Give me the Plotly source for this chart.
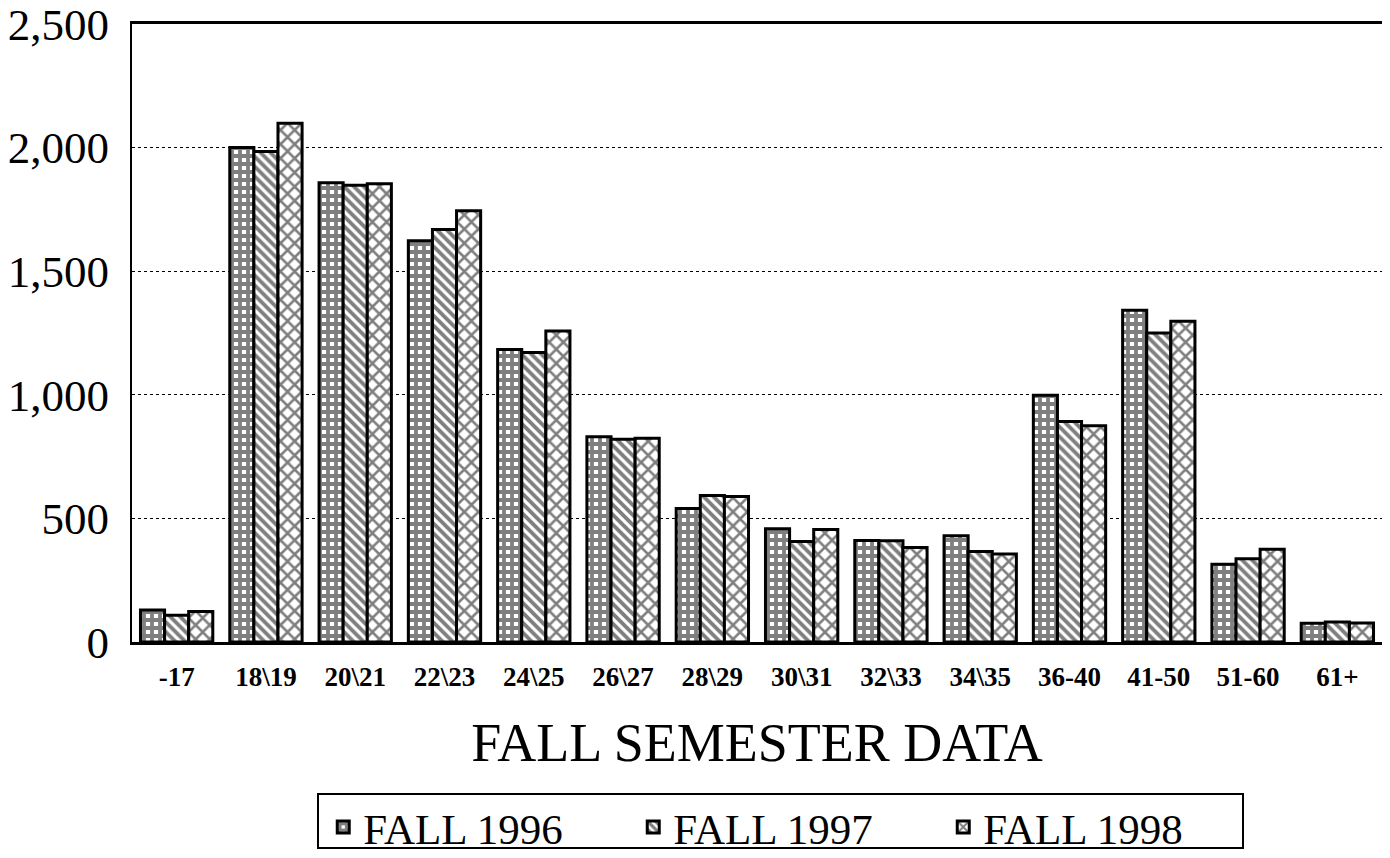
import plotly.graph_objects as go

categories = ["-17", "18\\19", "20\\21", "22\\23", "24\\25", "26\\27", "28\\29",
              "30\\31", "32\\33", "34\\35", "36-40", "41-50", "51-60", "61+"]
fall_1996 = [129, 2000, 1858, 1623, 1183, 830, 540, 458, 411, 430, 998, 1342, 315, 76]
fall_1997 = [108, 1984, 1848, 1669, 1171, 820, 593, 407, 410, 366, 892, 1250, 337, 81]
fall_1998 = [123, 2099, 1854, 1745, 1258, 824, 589, 455, 382, 356, 875, 1298, 375, 77]
series_names = ["FALL 1996", "FALL 1997", "FALL 1998"]
y_ticks = [0, 500, 1000, 1500, 2000, 2500]

FONT = "Liberation Serif, Times New Roman, serif"

patterns = [
    dict(shape="+", fgcolor="black", bgcolor="white", size=8, solidity=0.72),
    dict(shape="\\", fgcolor="black", bgcolor="white", size=7, solidity=0.55),
    dict(shape="x", fgcolor="black", bgcolor="white", size=10, solidity=0.45),
]

fig = go.Figure()
for name, vals, pat in zip(series_names, [fall_1996, fall_1997, fall_1998], patterns):
    fig.add_trace(go.Bar(
        x=categories, y=vals, name=name,
        marker=dict(color="white", pattern=pat, line=dict(color="black", width=3)),
    ))

# the page body adds an 8px margin, so everything is placed 8px up/left
fig.update_layout(
    width=1390, height=858,
    margin=dict(l=124, r=16, t=16, b=224, autoexpand=False),
    paper_bgcolor="white", plot_bgcolor="white",
    barmode="group", bargap=0.19, bargroupgap=0.0,
    font=dict(family=FONT, color="black"),
    showlegend=True,
    legend=dict(
        orientation="h", x=0.525, xanchor="center", y=-0.2994, yanchor="middle",
        font=dict(family=FONT, size=43, color="black"),
        borderwidth=0, bgcolor="rgba(0,0,0,0)",
        itemwidth=30, traceorder="normal",
        entrywidth=265, entrywidthmode="pixels",
    ),
    shapes=[dict(
        type="rect", xref="paper", yref="paper",
        x0=0.1488, x1=0.8888, y0=-0.3333, y1=-0.2460,
        line=dict(color="black", width=2), fillcolor="rgba(0,0,0,0)", layer="below",
    )],
    xaxis=dict(
        automargin=False,
        title=dict(text="FALL SEMESTER DATA", font=dict(family=FONT, size=54), standoff=32),
        tickfont=dict(family=FONT, size=27, color="black", weight="bold"),
        ticklabelstandoff=9,
        showline=True, linecolor="black", linewidth=3, mirror=True,
        ticks="", showgrid=False,
    ),
    yaxis=dict(
        automargin=False,
        range=[0, 2500], tickvals=y_ticks, tickformat=",d",
        tickfont=dict(family=FONT, size=45, color="black"),
        ticklabelstandoff=12, ticklabeloverflow="allow",
        showline=True, linecolor="black", linewidth=2, mirror=True,
        showgrid=True, gridcolor="black", gridwidth=1.3, griddash="dot",
        ticks="", zeroline=False,
    ),
)

fig.write_html("out.html")
